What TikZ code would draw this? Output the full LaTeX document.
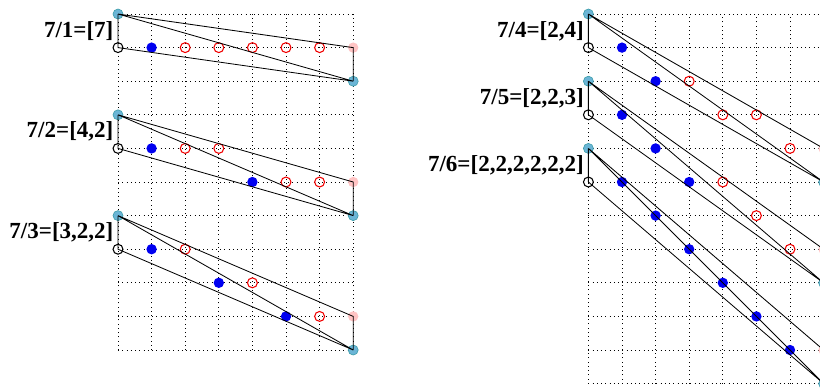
\documentclass[tikz,border=0pt]{standalone}
\usepackage{fontspec}
\setmainfont{Liberation Serif}
\usetikzlibrary{calc}
\definecolor{tipc}{HTML}{6BB5D6}
\definecolor{tipd}{HTML}{3A9CA8}
\definecolor{vtxc}{HTML}{0000F0}
\definecolor{gapc}{HTML}{F00000}
\definecolor{endc}{HTML}{FFC4C4}
\tikzset{
  tip/.style={circle, fill=tipc, draw=tipd, line width=0.5pt, inner sep=0pt, minimum size=8.5pt},
  vtx/.style={circle, fill=vtxc, inner sep=0pt, minimum size=8.8pt},
  gap/.style={circle, draw=gapc, line width=0.9pt, inner sep=0pt, minimum size=8.4pt},
  base/.style={circle, draw=black, line width=0.9pt, inner sep=0pt, minimum size=8.4pt},
  endp/.style={circle, fill=endc, inner sep=0pt, minimum size=8.8pt},
  edge/.style={black, line width=0.7pt},
  lat/.style={black, line width=0.7pt, dash pattern=on 0.7pt off 2.9pt},
  lab/.style={font=\fontsize{19.5}{20}\selectfont\bfseries, inner sep=0pt, anchor=east},
}
% #1 tag, #2 q, #3 #4 top corner, #5 label, #6 hull points, #7 other points
\newcommand{\hjcone}[7]{%
  \begin{scope}[shift={(#3,#4)}]
    \foreach \i in {#7} \node[gap] (#1-\i) at (\i,{-ceil(\i*#2/7)}) {};
    \foreach \i in {#6} \node[vtx] (#1-\i) at (\i,{-ceil(\i*#2/7)}) {};
    \node[tip] (#1-o) at (0,0) {};
    \node[base] (#1-b) at (0,-1) {};
    \node[endp] (#1-p) at (7,-#2) {};
    \node[tip] (#1-e) at (7,{-#2-1}) {};
    \node[lab] (#1-l) at (-0.13,-0.5) {#5};
    \draw[edge] (#1-o.center) -- (#1-b.center) -- (#1-e.center)
      (#1-o.center) -- (#1-p.center) -- (#1-e.center)
      (#1-o.center) -- (#1-e.center);
  \end{scope}}

\begin{document}
\begin{tikzpicture}
  \useasboundingbox (-3.512,0.417) rectangle (20.893,-11.161);
  \clip (-3.512,0.417) rectangle (20.893,-11.161);
  \draw[lat] (0,-10) grid (7,0);
  \draw[lat] (14,-11) grid (21,0);
  \hjcone{a}{1}{0}{0}{7/1=[7]}{1}{2,3,4,5,6}
  \hjcone{b}{2}{0}{-3}{7/2=[4,2]}{1,4}{2,3,5,6}
  \hjcone{c}{3}{0}{-6}{7/3=[3,2,2]}{1,3,5}{2,4,6}
  \hjcone{d}{4}{14}{0}{7/4=[2,4]}{1,2}{3,4,5,6}
  \hjcone{e}{5}{14}{-2}{7/5=[2,2,3]}{1,2,3}{4,5,6}
  \hjcone{f}{6}{14}{-4}{7/6=[2,2,2,2,2,2]}{1,2,3,4,5,6}{}
\end{tikzpicture}
\end{document}
